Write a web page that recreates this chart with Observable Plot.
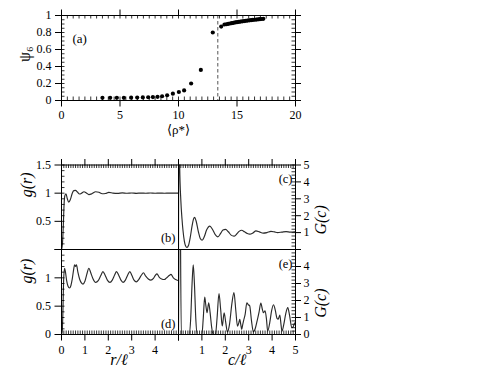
<!DOCTYPE html>
<html><head><meta charset="utf-8">
<script src="https://cdn.jsdelivr.net/npm/d3@7"></script>
<script src="https://cdn.jsdelivr.net/npm/@observablehq/plot@0.6"></script>
<style>
body{margin:0;background:#fff;}
#chart{position:relative;width:485px;height:378px;overflow:hidden;background:#fff;}
#chart svg{position:absolute;left:0;top:0;overflow:visible;background:transparent;}
#chart svg, #chart svg text{font-family:"Liberation Serif","DejaVu Serif","Noto Serif","Tinos","FreeSerif","Times",serif !important;}
</style></head><body><div id="chart"></div>
<script>
// ---------- Panel (a): bond-orientational order vs density ----------
const rho = [3.5, 4.16, 4.73, 5.33, 5.95, 6.47, 6.95, 7.41, 7.81, 8.21, 8.6, 9.03, 9.52, 10.03, 10.48, 11.08, 11.91, 12.93, 13.65, 13.93,
  14.1, 14.25, 14.4, 14.55, 14.7, 14.85, 15.0, 15.15, 15.3, 15.45, 15.6, 15.75, 15.9, 16.05, 16.2, 16.35, 16.5, 16.65, 16.8, 16.95, 17.1, 17.25];
const psi6 = [0.031, 0.031, 0.031, 0.032, 0.033, 0.034, 0.036, 0.038, 0.04, 0.043, 0.05, 0.062, 0.08, 0.1, 0.118, 0.2, 0.36, 0.8, 0.87, 0.894,
  0.897, 0.902, 0.906, 0.91, 0.914, 0.918, 0.921, 0.925, 0.928, 0.931, 0.934, 0.937, 0.94, 0.943, 0.945, 0.948, 0.95, 0.952, 0.955, 0.957, 0.959, 0.961];
const transitionRho = [13.36];
const aTicksX = [0, 5, 10, 15, 20];
const aTicksY = [0, 0.2, 0.4, 0.6, 0.8, 1];

// ---------- Panel (b): g(r), liquid ----------
const rB = [0, 0.04, 0.08, 0.11, 0.14, 0.19, 0.25, 0.31, 0.38, 0.46, 0.53, 0.6, 0.68, 0.77, 0.86, 0.96, 1.06, 1.17, 1.3, 1.46,
  1.6, 1.74, 1.88, 2.02, 2.2, 2.4, 2.6, 2.8, 3.0, 3.2, 3.4, 3.6, 3.8, 4.0, 4.2, 4.4, 4.6, 4.8, 5.0];
const gB = [0, 0.1, 0.45, 0.8, 0.95, 0.99, 0.9, 0.84, 0.89, 1.0, 1.045, 1.05, 1.02, 0.985, 1.0, 1.025, 1.005, 0.975, 0.99, 1.025,
  1.015, 0.99, 0.995, 1.015, 1.0, 0.995, 1.005, 0.998, 1.003, 0.997, 1.002, 0.999, 1.003, 0.998, 1.001, 0.999, 1.002, 1.0, 1.0];

// ---------- Panel (c): G(c), liquid ----------
const cC = [0, 0.02, 0.05, 0.1, 0.15, 0.19, 0.25, 0.3, 0.36, 0.43, 0.5, 0.58, 0.64, 0.69, 0.75, 0.85, 0.93, 1.01, 1.1, 1.2,
  1.34, 1.45, 1.57, 1.68, 1.8, 1.9, 2.01, 2.13, 2.25, 2.37, 2.48, 2.59, 2.7, 2.82, 2.94, 3.05, 3.18, 3.31, 3.46, 3.62,
  3.78, 3.95, 4.1, 4.24, 4.42, 4.6, 4.78, 4.96, 5.0];
const GC = [0, 9, 5.0, 2.9, 1.8, 1.15, 0.5, 0.22, 0.12, 0.25, 0.7, 1.4, 1.8, 1.9, 1.7, 1.05, 0.65, 0.55, 0.75, 1.15,
  1.38, 1.2, 0.88, 0.75, 0.95, 1.15, 1.19, 1.05, 0.85, 0.79, 0.9, 1.07, 1.14, 1.05, 0.95, 0.91, 0.98, 1.1, 1.04, 0.97,
  1.0, 1.07, 1.04, 1.0, 1.03, 1.06, 1.03, 1.04, 1.04];

// ---------- Panel (d): g(r), solid ----------
const rD = [0, 0.03, 0.06, 0.09, 0.13, 0.17, 0.22, 0.28, 0.34, 0.4, 0.46, 0.52, 0.56, 0.6, 0.64, 0.7, 0.78, 0.85, 0.92, 1.0,
  1.08, 1.17, 1.25, 1.34, 1.46, 1.57, 1.68, 1.77, 1.86, 1.96, 2.07, 2.17, 2.27, 2.35, 2.44, 2.54, 2.63, 2.73, 2.83, 2.92,
  3.01, 3.1, 3.2, 3.3, 3.42, 3.5, 3.6, 3.71, 3.82, 3.93, 4.02, 4.08, 4.18, 4.28, 4.39, 4.49, 4.6, 4.68, 4.78, 4.88, 5.0];
const gD = [0, 0.05, 0.4, 0.95, 1.17, 1.1, 0.95, 0.85, 0.82, 0.86, 0.98, 1.15, 1.23, 1.2, 1.23, 1.1, 0.97, 0.91, 0.89, 0.94,
  1.06, 1.17, 1.09, 0.99, 0.92, 0.95, 1.04, 1.11, 1.05, 0.96, 0.92, 0.96, 1.05, 1.11, 1.05, 0.96, 0.92, 0.96, 1.05, 1.11,
  1.04, 0.96, 0.93, 0.97, 1.05, 1.09, 1.03, 0.98, 0.96, 0.99, 1.05, 1.07, 1.01, 0.98, 0.97, 1.0, 1.04, 1.06, 1.0, 0.97, 0.95];

// ---------- Panel (e): G(c), solid ----------
const cE = [0, 0.05, 0.12, 0.45, 0.52, 0.58, 0.63, 0.68, 0.74, 0.8, 1.0, 1.06, 1.12, 1.17, 1.22, 1.29, 1.35, 1.42, 1.48, 1.58,
  1.65, 1.73, 1.8, 1.87, 1.95, 2.02, 2.09, 2.18, 2.28, 2.37, 2.45, 2.52, 2.58, 2.62, 2.66, 2.7, 2.74, 2.78, 2.85, 2.92,
  2.98, 3.04, 3.12, 3.2, 3.28, 3.36, 3.44, 3.52, 3.58, 3.63, 3.7, 3.76, 3.81, 3.9, 3.98, 4.06, 4.14, 4.21, 4.26, 4.33,
  4.38, 4.42, 4.5, 4.58, 4.67, 4.75, 4.84, 4.9, 4.96, 5.0];
const GE = [0, 12, 0, 0, 0.9, 3.0, 4.1, 3.0, 0.9, 0, 0, 1.0, 2.2, 1.7, 1.28, 1.87, 1.3, 0.4, 0, 0,
  1.0, 2.41, 1.5, 0.5, 1.28, 0.7, 0.15, 0.6, 1.8, 2.47, 1.4, 0.49, 0.7, 0.89, 0.6, 0.3, 0.55, 0.8, 1.2, 1.87,
  1.75, 1.7, 0.8, 0.15, 0.35, 0.8, 1.3, 1.85, 1.5, 1.28, 1.4, 0.9, 0.2, 0.7, 1.4, 1.75, 1.4, 0.95, 0.9, 1.15,
  0.6, 0.2, 0.6, 1.2, 1.58, 1.1, 0.4, 0.45, 0.67, 0.7];

const rTicks = [0, 1, 2, 3, 4, 5];
const rLabels = [0, 1, 2, 3, 4];
const cLabels = [1, 2, 3, 4, 5];
const gTicks = [0, 0.5, 1, 1.5];
const gLabelsB = [0.5, 1, 1.5];
const gLabelsD = [0, 0.5, 1];
const GTicks = [0, 1, 2, 3, 4, 5];
const GLabelsC = [1, 2, 3, 4, 5];
const GLabelsE = [0, 1, 2, 3, 4];

// ---------- layout helpers ----------
const W = 485, H = 378;
const FONT = "Liberation Serif, DejaVu Serif, Noto Serif, serif";
const zip = (xs, ys) => d3.range(Math.min(xs.length, ys.length)).map(i => ({x: xs[i], y: ys[i]}));
const fmt = labels => d => labels.includes(d) ? String(d) : "";
const MIN = 3.5, MAJ = 6.5;

function minorX(vals, side, frameH) {
  const o = {x: d => d, stroke: "black", strokeWidth: 0.8};
  o[side === "bottom" ? "insetTop" : "insetBottom"] = frameH - MIN;
  return Plot.tickX(vals, o);
}
function minorY(vals, side, frameW) {
  const o = {y: d => d, stroke: "black", strokeWidth: 0.8};
  o[side === "left" ? "insetRight" : "insetLeft"] = frameW - MIN;
  return Plot.tickY(vals, o);
}
function axX(anchor, ticks, labels, pad = 4) {
  return Plot.axisX({anchor, ticks, tickSize: MAJ, tickPadding: pad, label: null, tickFormat: fmt(labels), fontSize: 12, fontFamily: FONT, stroke: "black", fill: "black"});
}
function axY(anchor, ticks, labels, size = MAJ, pad = 4) {
  return Plot.axisY({anchor, ticks, tickSize: size, tickPadding: pad, label: null, tickFormat: fmt(labels), fontSize: 12, fontFamily: FONT, stroke: "black", fill: "black"});
}
function label(t, o) {
  return Plot.text([t], {text: d => d, fill: "black", fontSize: 12.5, fontFamily: FONT, ...o});
}
function panel(left, right, top, bottom, xDomain, yDomain, marks) {
  return Plot.plot({
    width: W, height: H,
    marginLeft: left, marginRight: W - right, marginTop: top, marginBottom: H - bottom,
    x: {domain: xDomain}, y: {domain: yDomain},
    style: {fontSize: "12px", color: "black", background: "transparent", overflow: "visible"},
    marks
  });
}
const lineOpts = {x: "x", y: "y", stroke: "#2a2a2a", strokeWidth: 1.15, curve: "monotone-x", clip: true};

const chart = document.getElementById("chart");

// Panel (a)
const aL = 61, aR = 295, aT = 15, aB = 100;
chart.append(panel(aL, aR, aT, aB, [0, 20], [0, 1], [
  Plot.ruleX(transitionRho, {x: d => d, stroke: "#555", strokeWidth: 1, strokeDasharray: "3.5,2.5"}),
  Plot.dot(zip(rho, psi6), {x: "x", y: "y", r: 2.1, fill: "black", stroke: "none"}),
  minorX(d3.range(0, 20.01, 0.5), "bottom", aB - aT),
  minorX(d3.range(0, 20.01, 0.5), "top", aB - aT),
  minorY(d3.range(0, 1.001, 0.05), "left", aR - aL),
  minorY(d3.range(0, 1.001, 0.05), "right", aR - aL),
  axX("bottom", aTicksX, aTicksX, 3.5),
  axX("top", aTicksX, []),
  axY("left", aTicksY, aTicksY, 6),
  axY("right", aTicksY, [], 5),
  Plot.frame({stroke: "black", strokeWidth: 1}),
  label("(a)", {frameAnchor: "top-left", dx: 11, dy: 18, textAnchor: "start", fontSize: 13}),
  label("ψ₆", {frameAnchor: "left", dx: -37, dy: 4, rotate: -90, fontSize: 16}),
  label("⟨ρ*⟩", {frameAnchor: "bottom", dx: 0, dy: 33, fontSize: 13})
]));

// bottom panel geometry
const lL = 61, mid = 178, rR = 295, t1 = 164.5, t2 = 249, t3 = 334;
const pw = mid - lL, h1 = t2 - t1, h2 = t3 - t2;
const minorR = d3.range(0, 5.001, 0.1);
const minorG = d3.range(0, 1.5001, 0.1);
const minorGC = d3.range(0, 5.001, 0.2);

// Panel (b)
chart.append(panel(lL, mid, t1, t2, [0, 5], [0, 1.5], [
  Plot.line(zip(rB, gB), lineOpts),
  minorX(minorR, "top", h1),
  minorY(minorG, "left", pw),
  axX("top", rTicks, []),
  axY("left", gTicks, gLabelsB),
  Plot.frame({stroke: "black", strokeWidth: 1}),
  label("(b)", {frameAnchor: "bottom-right", dx: -3, dy: -8, textAnchor: "end"}),
  label("g(r)", {frameAnchor: "left", dx: -35, dy: -10, rotate: -90, fontSize: 16, fontStyle: "italic"})
]));

// Panel (c)
chart.append(panel(mid, rR, t1, t2, [0, 5], [0, 5], [
  Plot.line(zip(cC, GC), lineOpts),
  minorX(minorR, "top", h1),
  minorY(minorGC, "right", pw),
  axX("top", rTicks, []),
  axY("right", GTicks, GLabelsC, 5, 3),
  Plot.frame({stroke: "black", strokeWidth: 1}),
  label("(c)", {frameAnchor: "top-right", dx: -3, dy: 9, textAnchor: "end"}),
  label("G(c)", {frameAnchor: "right", dx: 25, dy: -2, rotate: -90, fontSize: 16, fontStyle: "italic"})
]));

// Panel (d)
chart.append(panel(lL, mid, t2, t3, [0, 5], [0, 1.5], [
  Plot.line(zip(rD, gD), lineOpts),
  minorX(minorR, "bottom", h2),
  minorY(minorG, "left", pw),
  axX("bottom", rTicks, rLabels),
  axY("left", gTicks, gLabelsD),
  Plot.frame({stroke: "black", strokeWidth: 1}),
  label("(d)", {frameAnchor: "bottom-right", dx: -3, dy: -7, textAnchor: "end"}),
  label("g(r)", {frameAnchor: "left", dx: -35, dy: -8.5, rotate: -90, fontSize: 16, fontStyle: "italic"}),
  label("r/ℓ", {frameAnchor: "bottom", dx: -1, dy: 30, fontSize: 16, fontStyle: "italic"})
]));

// Panel (e)
chart.append(panel(mid, rR, t2, t3, [0, 5], [0, 5], [
  Plot.line(zip(cE, GE), lineOpts),
  minorX(minorR, "bottom", h2),
  minorY(minorGC, "right", pw),
  axX("bottom", rTicks, cLabels),
  axY("right", GTicks, GLabelsE, 5, 3),
  Plot.frame({stroke: "black", strokeWidth: 1}),
  label("(e)", {frameAnchor: "top-right", dx: -3, dy: 10, textAnchor: "end"}),
  label("G(c)", {frameAnchor: "right", dx: 25, dy: -3.5, rotate: -90, fontSize: 16, fontStyle: "italic"}),
  label("c/ℓ", {frameAnchor: "bottom", dx: 0, dy: 30, fontSize: 16, fontStyle: "italic"})
]));
</script></body></html>
